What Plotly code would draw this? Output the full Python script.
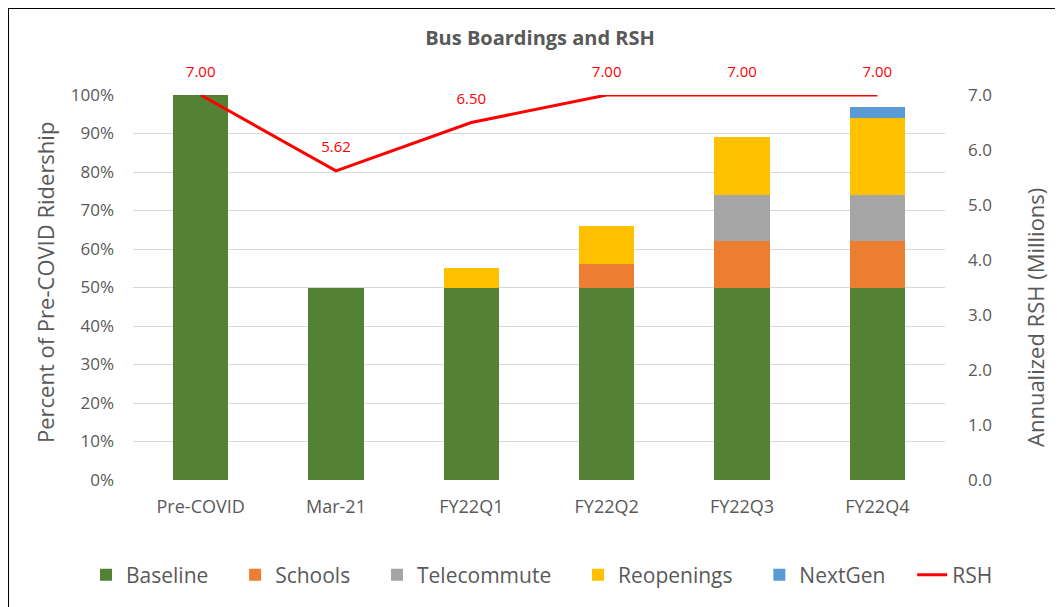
import plotly.graph_objects as go

categories = ["Pre-COVID", "Mar-21", "FY22Q1", "FY22Q2", "FY22Q3", "FY22Q4"]
baseline = [1.00, 0.50, 0.50, 0.50, 0.50, 0.50]
schools = [0, 0, 0, 0.06, 0.12, 0.12]
telecommute = [0, 0, 0, 0, 0.12, 0.12]
reopenings = [0, 0, 0.05, 0.10, 0.15, 0.20]
nextgen = [0, 0, 0, 0, 0, 0.03]
rsh = [7.00, 5.62, 6.50, 7.00, 7.00, 7.00]

GREY = "#595959"
FONT = "Open Sans"
PAD = "\u00a0" * 4  # extra room between legend entries

fig = go.Figure()

bar_series = [
    ("Baseline", baseline, "#548235"),
    ("Schools", schools, "#ED7D31"),
    ("Telecommute", telecommute, "#A5A5A5"),
    ("Reopenings", reopenings, "#FFC000"),
    ("NextGen", nextgen, "#5B9BD5"),
]
for name, vals, color in bar_series:
    fig.add_trace(
        go.Bar(
            name=name + PAD,
            x=categories,
            y=vals,
            marker=dict(color=color, line=dict(width=0)),
            width=0.41,
        )
    )

fig.add_trace(
    go.Scatter(
        name="RSH",
        x=categories,
        y=rsh,
        yaxis="y2",
        mode="lines+markers+text",
        line=dict(color="#FF0000", width=3),
        marker=dict(size=22, color="rgba(0,0,0,0)"),
        text=[f"{v:.2f}" for v in rsh],
        textposition="top center",
        textfont=dict(color="#FF0000", size=15, family=FONT),
        cliponaxis=False,
    )
)

# page is offset by the body margin (8px), so work in figure pixels
W, H = 1055, 599
L, R, T, B = 125, 118, 87, 127
pw, ph = W - L - R, H - T - B


def px_x(x):
    return (x - L) / pw


def px_y(y):
    return (H - B - y) / ph


fig.update_layout(
    width=W,
    height=H,
    margin=dict(l=L, r=R, t=T, b=B, autoexpand=False),
    barmode="stack",
    plot_bgcolor="white",
    paper_bgcolor="white",
    font=dict(family=FONT, color=GREY, size=17),
    title=dict(
        text="<b>Bus Boardings and RSH</b>",
        x=532 / W,
        xanchor="center",
        y=1 - 30 / H,
        yanchor="middle",
        font=dict(size=20, color=GREY, family=FONT),
    ),
    xaxis=dict(
        showgrid=False,
        showline=False,
        ticks="",
        ticklabelstandoff=14,
        tickfont=dict(size=18, color=GREY),
    ),
    yaxis=dict(
        range=[0, 1],
        dtick=0.1,
        tickformat=".0%",
        gridcolor="#D9D9D9",
        gridwidth=1,
        zeroline=False,
        showline=False,
        ticks="",
        ticklabelstandoff=18,
        tickfont=dict(size=17, color=GREY),
    ),
    yaxis2=dict(
        range=[0, 7],
        dtick=1,
        tickformat=".1f",
        overlaying="y",
        side="right",
        showgrid=False,
        zeroline=False,
        ticks="",
        ticklabelstandoff=22,
        tickfont=dict(size=17, color=GREY),
    ),
    legend=dict(
        orientation="h",
        x=px_x(78),
        xanchor="left",
        y=px_y(567),
        yanchor="middle",
        font=dict(size=21, color=GREY),
        traceorder="normal",
        itemwidth=30,
    ),
    annotations=[
        dict(
            text="Percent of Pre-COVID Ridership",
            xref="paper",
            yref="paper",
            x=px_x(37),
            xanchor="center",
            y=px_y(275),
            yanchor="middle",
            textangle=-90,
            showarrow=False,
            font=dict(size=22, color=GREY),
        ),
        dict(
            text="Annualized RSH (Millions)",
            xref="paper",
            yref="paper",
            x=px_x(1027),
            xanchor="center",
            y=px_y(310),
            yanchor="middle",
            textangle=-90,
            showarrow=False,
            font=dict(size=22, color=GREY),
        ),
    ],
    shapes=[
        dict(
            type="line",
            xref="paper",
            yref="paper",
            x0=px_x(0),
            x1=px_x(W),
            y0=px_y(0),
            y1=px_y(0),
            line=dict(color="black", width=2),
        ),
        dict(
            type="line",
            xref="paper",
            yref="paper",
            x0=px_x(0),
            x1=px_x(0),
            y0=px_y(0),
            y1=px_y(H),
            line=dict(color="black", width=2),
        ),
    ],
)

fig.write_html("out.html")
